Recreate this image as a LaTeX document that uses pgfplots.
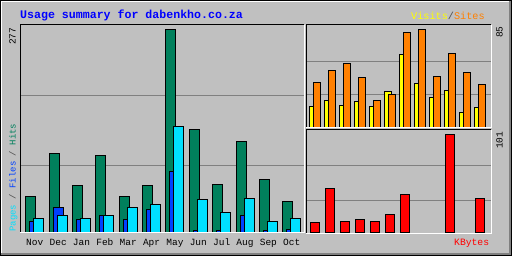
\documentclass[border=0pt]{standalone}
\usepackage{pgfplots}
\pgfplotsset{compat=1.18}
\usepackage{fontspec}
\setmainfont{Liberation Mono}
\definecolor{bg}{HTML}{C0C0C0}
\definecolor{dg}{HTML}{808080}
\definecolor{gridc}{HTML}{808080}
\definecolor{hits}{HTML}{00805C}
\definecolor{files}{HTML}{0040FF}
\definecolor{pages}{HTML}{00E0FF}
\definecolor{visits}{HTML}{FFFF00}
\definecolor{sites}{HTML}{FF8000}
\definecolor{kbytes}{HTML}{FF0000}
\definecolor{titleblue}{HTML}{0000FF}
\pgfplotsset{
  webal/.style={
    scale only axis,
    axis line style={draw=none},
    tick style={draw=none},
    major tick length=0pt,
    ymajorgrids,
    grid style={draw=gridc, line width=1pt},
    yticklabels={},
    xticklabels={},
  }
}
\begin{document}
\begin{tikzpicture}
% background with bevel
\fill[black] (0pt,0pt) rectangle (512pt,256pt);
\fill[bg] (1pt,1pt) rectangle (511pt,255pt);
\fill[white] (1pt,254pt) rectangle (511pt,255pt);
\fill[white] (1pt,1pt) rectangle (2pt,255pt);
\fill[dg] (509pt,1pt) rectangle (511pt,255pt);
\fill[dg] (1pt,1pt) rectangle (511pt,3pt);

% left chart: hits / files / pages
\begin{axis}[webal,
  at={(20pt,23pt)}, anchor=south west,
  width=284pt, height=208pt,
  xmin=-0.6336, xmax=11.524,
  ymin=0, ymax=282.8,
  ytick={92.1,186.7},
  xtick={0,...,11},
  xticklabels={Nov,Dec,Jan,Feb,Mar,Apr,May,Jun,Jul,Aug,Sep,Oct},
  xticklabel style={font=\fontsize{9.5}{10}\selectfont, anchor=base, inner sep=0pt, yshift=-12.5pt},
]
\addplot[ybar, bar width=10pt, bar shift=-4pt, fill=hits, draw=black, line width=1pt]
  coordinates {(0,50) (1,108) (2,64) (3,106) (4,49) (5,64) (6,277) (7,141) (8,66) (9,124) (10,73) (11,43)};
\addplot[ybar, bar width=10pt, bar shift=0pt, fill=files, draw=black, line width=1pt]
  coordinates {(0,16) (1,34) (2,19) (3,24) (4,19) (5,32) (6,83) (7,4) (8,4) (9,24) (10,4) (11,5)};
\addplot[ybar, bar width=10pt, bar shift=4pt, fill=pages, draw=black, line width=1pt]
  coordinates {(0,20) (1,24) (2,20) (3,24) (4,35) (5,39) (6,145) (7,46) (8,28) (9,47) (10,16) (11,20)};
\end{axis}

% top right chart: visits / sites
\begin{axis}[webal,
  at={(306pt,128pt)}, anchor=south west,
  width=185pt, height=103pt,
  xmin=-0.6, xmax=11.733,
  ymin=-0.6, ymax=88.5,
  ytick={28.3,56.7},
  xtick=\empty,
]
\addplot[ybar, bar width=6.3pt, bar shift=-2pt, fill=visits, draw=black, line width=1pt]
  coordinates {(0,18) (1,23) (2,19) (3,22) (4,18) (5,31) (6,63) (7,38) (8,26) (9,32) (10,13) (11,17)};
\addplot[ybar, bar width=6.3pt, bar shift=2pt, fill=sites, draw=black, line width=1pt]
  coordinates {(0,39) (1,49) (2,55) (3,43.5) (4,23) (5,28) (6,82) (7,85) (8,44) (9,64) (10,47) (11,37)};
\end{axis}

% bottom right chart: kbytes
\begin{axis}[webal,
  at={(306pt,22pt)}, anchor=south west,
  width=185pt, height=104pt,
  xmin=-0.6, xmax=11.733,
  ymin=-1.33, ymax=105.4,
  ytick={33.3,69.2},
  xtick=\empty,
]
\addplot[ybar, bar width=9pt, bar shift=0pt, fill=kbytes, draw=black, line width=1pt]
  coordinates {(0,10) (1,45) (2,11) (3,14) (4,11) (5,19) (6,39) (9,101) (11,35)};
\end{axis}

% frames (sunken)
\draw[black, line width=1pt] (20pt,23pt) -- (20pt,231pt) -- (304pt,231pt);
\draw[white, line width=1pt] (20pt,23pt) -- (304pt,23pt) -- (304pt,231pt);
\draw[black, line width=1pt] (306pt,128pt) -- (306pt,231pt) -- (491pt,231pt);
\draw[white, line width=1pt] (306pt,128pt) -- (491pt,128pt) -- (491pt,231pt);
\draw[black, line width=1pt] (306pt,22pt) -- (306pt,126pt) -- (491pt,126pt);
\draw[white, line width=1pt] (306pt,22pt) -- (491pt,22pt) -- (491pt,126pt);

% title
\node[anchor=base west, inner sep=0pt, text=titleblue, font=\fontsize{11.6}{12}\selectfont\bfseries] at (20pt,237pt) {Usage summary for dabenkho.co.za};

% Visits / Sites
\node[anchor=base west, inner sep=0pt, font=\fontsize{10.2}{11}\selectfont] at (411pt,236.7pt) {\textcolor{visits}{Visits}\textcolor{black!70}{/}\textcolor{sites}{Sites}};

% left vertical label
\node[rotate=90, anchor=base west, inner sep=0pt, font=\fontsize{9}{10}\selectfont] at (15.5pt,24pt) {\textcolor{pages}{Pages} \textcolor{black!70}{/} \textcolor{files}{Files} \textcolor{black!70}{/} \textcolor{hits}{Hits}};

% max values
\node[rotate=90, anchor=base west, inner sep=0pt, font=\fontsize{9.5}{10}\selectfont] at (15.5pt,211pt) {277};
\node[rotate=90, anchor=base west, inner sep=0pt, font=\fontsize{9.5}{10}\selectfont] at (502.5pt,218pt) {85};
\node[rotate=90, anchor=base west, inner sep=0pt, font=\fontsize{9.5}{10}\selectfont] at (502.5pt,107pt) {101};

% KBytes
\node[anchor=base west, inner sep=0pt, text=kbytes, font=\fontsize{9.7}{10}\selectfont] at (454pt,10pt) {KBytes};
\end{tikzpicture}
\end{document}
